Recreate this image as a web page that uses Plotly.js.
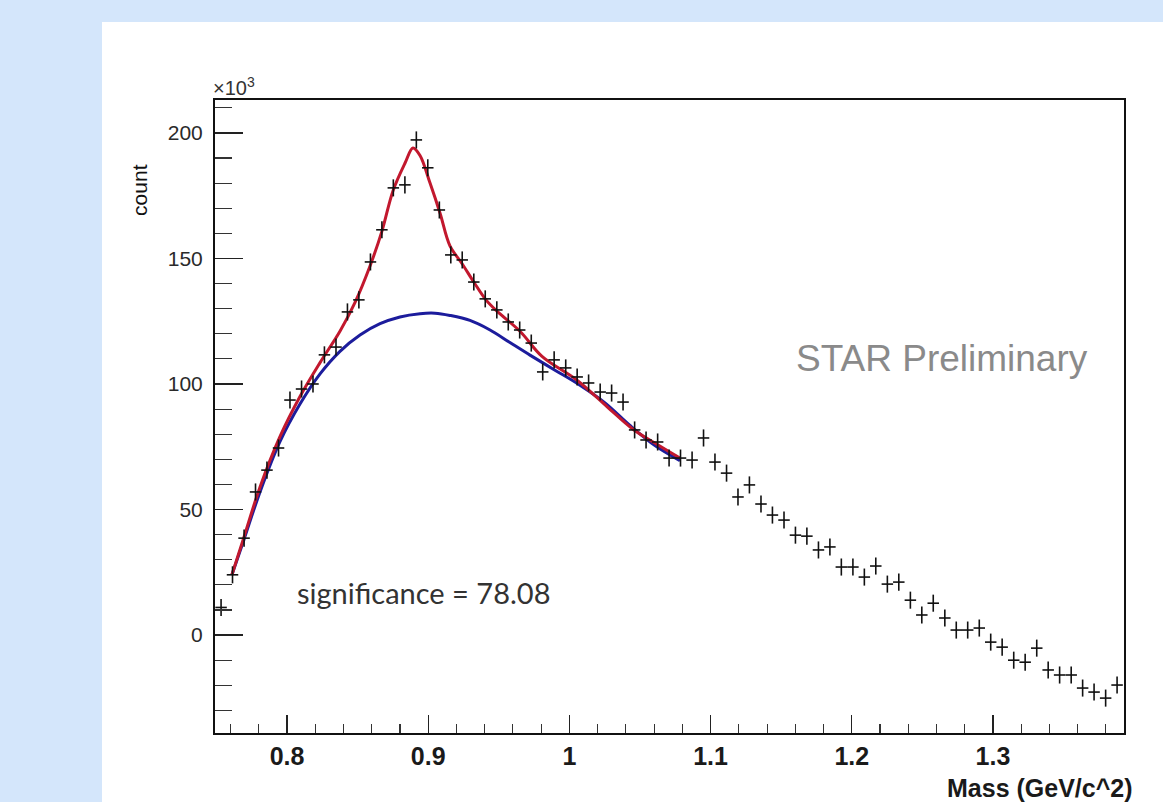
<!DOCTYPE html>
<html>
<head>
<meta charset="utf-8">
<script src="https://cdn.plot.ly/plotly-3.0.1.min.js"></script>
<style>html,body{margin:0;padding:0;background:#d4e6fb;}#chart{width:1163px;height:802px;}</style>
</head>
<body>
<div id="chart"></div>
<script>
// Data points (mass bin centers in GeV/c^2, counts in units of 10^3)
const massBins = [0.7533,0.7614,0.7696,0.7777,0.7858,0.7940,0.8021,0.8103,0.8184,0.8265,
  0.8347,0.8428,0.8509,0.8591,0.8672,0.8753,0.8835,0.8916,0.8997,0.9079,
  0.9160,0.9241,0.9323,0.9404,0.9486,0.9567,0.9648,0.9730,0.9811,0.9892,
  0.9974,1.0055,1.0136,1.0218,1.0299,1.0380,1.0462,1.0543,1.0625,1.0706,
  1.0787,1.0869,1.0950,1.1031,1.1113,1.1194,1.1275,1.1357,1.1438,1.1520,
  1.1601,1.1682,1.1764,1.1845,1.1926,1.2008,1.2089,1.2170,1.2252,1.2333,
  1.2415,1.2496,1.2577,1.2659,1.2740,1.2821,1.2903,1.2984,1.3065,1.3147,
  1.3228,1.3310,1.3391,1.3472,1.3554,1.3635,1.3716,1.3798,1.3879];
const counts = [11,24,38.6,57,65.7,74.5,93.6,98,100,111.6,
  114.7,128.7,133.5,148.6,161.4,178.1,179.3,197.2,186.1,169.3,
  151.4,149.4,140.6,133.9,129.5,124.7,121.5,116.3,104.8,109.6,
  106.4,102.8,100.4,96.8,96.4,92.8,81.7,77.7,76.9,70.5,
  70.5,69.7,78.5,68.9,64.5,55.0,59.8,52.2,47.8,45.8,
  39.8,39.4,33.9,35.1,27.1,27.1,23.1,27.5,20.3,21.1,
  13.9,8.0,12.7,6.8,2.0,2.0,2.8,-2.8,-4.8,-10.0,
  -10.8,-5.2,-13.9,-15.9,-15.9,-21.1,-22.7,-25.1,-19.9];
const countErr = 3.4;
const binHalfWidth = 0.00407;

// Signal + background fit (red)
const fitMass = [0.761,0.7695,0.7809,0.795,0.8092,0.8234,0.8375,0.8482,0.8588,0.8673,
  0.8751,0.8836,0.8892,0.8942,0.9013,0.9084,0.9154,0.9239,0.9324,0.9409,
  0.9487,0.965,0.9806,1.0054,1.0266,1.045,1.062,1.0783];
const fitTotal = [24,39,59,79,95,108.5,121,132.5,147,161,
  177,188,194,191,180,168,155,148,140.5,133.5,
  129,121,111,101.5,91,82,76,70.5];

// Background fit (blue)
const bgMass = [0.761,0.7695,0.7809,0.795,0.8092,0.8234,0.8375,0.8517,0.8659,0.88,
  0.8942,0.9048,0.9154,0.9296,0.9438,0.9579,0.9721,0.9898,1.0075,1.0252,
  1.0429,1.0606,1.0783];
const bgFit = [24,38,57,77,92,104,113,119.5,124,126.7,
  128,128.2,127.3,125.3,121.5,116.5,111.5,105.5,99.5,92.5,
  83.5,75.5,69.5];

const yTickVals = [0,50,100,150,200];
const yTickText = ['0','50','100','150','200'];
const xTickVals = [0.8,0.9,1.0,1.1,1.2,1.3];
const xTickText = ['0.8','0.9','1','1.1','1.2','1.3'];

const traces = [
  {x: bgMass, y: bgFit, type:'scatter', mode:'lines', line:{color:'#1c1c9c', width:3, shape:'spline'}, hoverinfo:'skip'},
  {x: fitMass, y: fitTotal, type:'scatter', mode:'lines', line:{color:'#c2182e', width:3, shape:'spline'}, hoverinfo:'skip'},
  {x: massBins, y: counts, type:'scatter', mode:'markers',
   marker:{size:1, color:'#111'},
   error_x:{type:'constant', value:binHalfWidth, width:0, color:'#111', thickness:1.6},
   error_y:{type:'constant', value:countErr, width:0, color:'#111', thickness:1.6}}
];

const font = 'Liberation Sans, Arial, sans-serif';
const layout = {
  width:1163, height:802,
  paper_bgcolor:'#d4e6fb', plot_bgcolor:'#ffffff',
  margin:{l:215, r:39, t:100, b:69},
  showlegend:false,
  xaxis:{range:[0.749,1.3928], tickvals:xTickVals, ticktext:xTickText,
    ticks:'inside', ticklen:18, tickwidth:1.3, tickcolor:'#222',
    minor:{dtick:0.02, tick0:0.8, ticks:'inside', ticklen:9, tickwidth:1.1, tickcolor:'#333', showgrid:false},
    showgrid:false, zeroline:false, showline:true, linecolor:'#111', linewidth:2, mirror:true,
    tickfont:{family:font, size:25, color:'#1a1a1a', weight:'bold'}, ticklabelstandoff:0},
  yaxis:{range:[-39,213.1], tickvals:yTickVals, ticktext:yTickText,
    ticks:'inside', ticklen:28, tickwidth:1.3, tickcolor:'#222',
    minor:{dtick:10, tick0:0, ticks:'inside', ticklen:17, tickwidth:1.1, tickcolor:'#333', showgrid:false},
    showgrid:false, zeroline:false, showline:true, linecolor:'#111', linewidth:2, mirror:true,
    tickfont:{family:font, size:21, color:'#2a2a2a'}, ticklabelstandoff:6},
  shapes:[
    {type:'rect', xref:'paper', yref:'paper', x0:-0.1243, x1:1.2, y0:-0.3, y1:1.1232,
     fillcolor:'#ffffff', line:{width:0}, layer:'below'}
  ],
  annotations:[
    {xref:'paper', yref:'paper', x:-0.004, y:1.022, xanchor:'left', yanchor:'middle', showarrow:false,
     text:'×10<sup>3</sup>', font:{family:font, size:20, color:'#333'}},
    {xref:'paper', yref:'paper', x:-0.0825, y:0.858, xanchor:'center', yanchor:'middle', showarrow:false,
     textangle:-90, text:'count', font:{family:font, size:21, color:'#111'}},
    {xref:'paper', yref:'paper', x:1.012, y:-0.0865, xanchor:'right', yanchor:'middle', showarrow:false,
     text:'<b>Mass (GeV/c^2)</b>', font:{family:font, size:25, color:'#1a1a1a'}},
    {xref:'paper', yref:'paper', x:0.9626, y:0.5924, xanchor:'right', yanchor:'middle', showarrow:false,
     text:'STAR Preliminary', font:{family:font, size:37, color:'#8a8a8a'}},
    {xref:'paper', yref:'paper', x:0.088, y:0.2212, xanchor:'left', yanchor:'middle', showarrow:false,
     text:'significance = 78.08', font:{family:'Lato, Open Sans, sans-serif', size:29, color:'#333'}}
  ]
};

Plotly.newPlot('chart', traces, layout, {staticPlot:true, displayModeBar:false});
</script>
</body>
</html>
